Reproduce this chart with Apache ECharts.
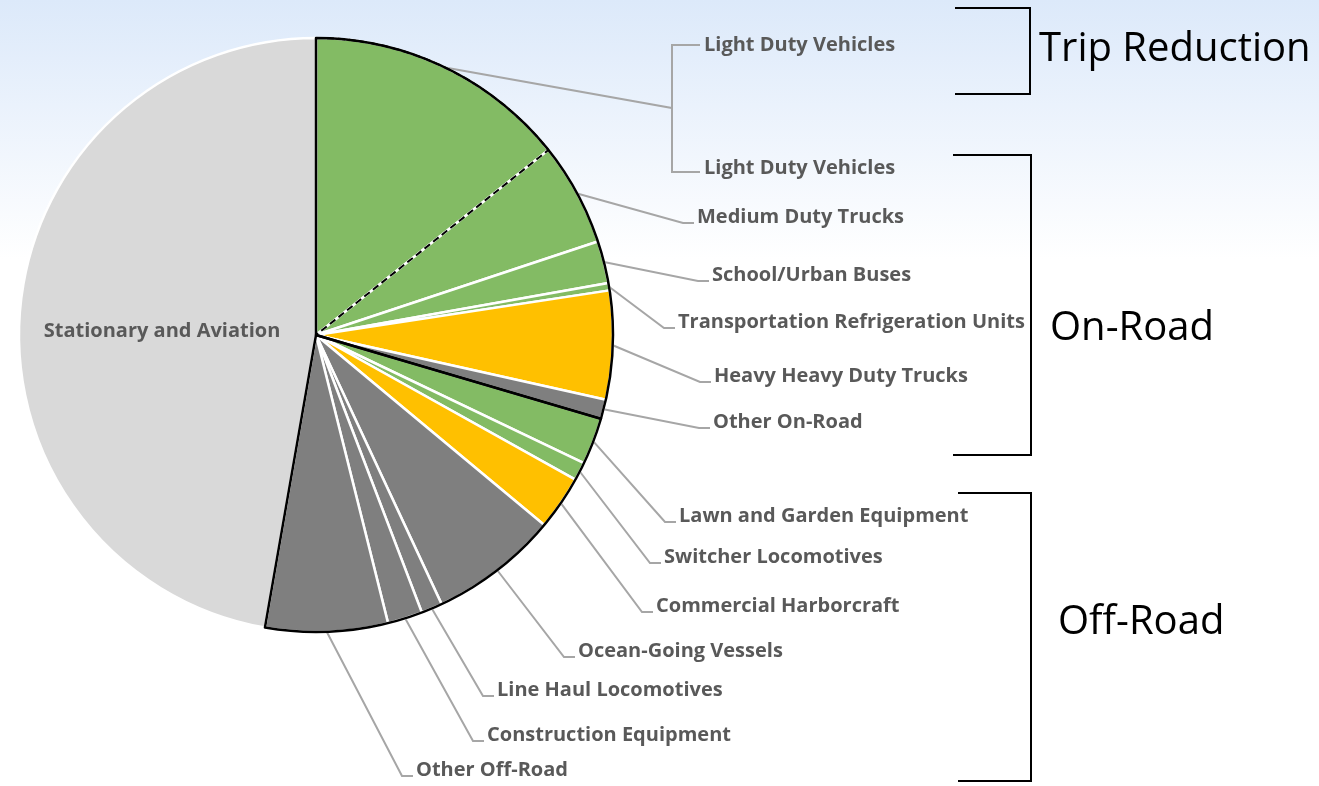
<!DOCTYPE html>
<html><head><meta charset="utf-8">
<script src="https://cdn.jsdelivr.net/npm/echarts@6/dist/echarts.min.js"></script>
<style>html,body{margin:0;padding:0;background:#fff}#chart{width:1319px;height:786px}</style>
</head><body><div id="chart"></div>
<script>
// ---- data ----
const categories = [
  'Light Duty Vehicles', 'Medium Duty Trucks', 'School/Urban Buses',
  'Transportation Refrigeration Units', 'Heavy Heavy Duty Trucks', 'Other On-Road',
  'Lawn and Garden Equipment', 'Switcher Locomotives', 'Commercial Harborcraft',
  'Ocean-Going Vessels', 'Line Haul Locomotives', 'Construction Equipment',
  'Other Off-Road', 'Stationary and Aviation'
];
const shares = [14.3, 5.6, 2.3, 0.4, 5.9, 1.05, 2.55, 1.0, 2.95, 7.0, 1.15, 1.9, 6.65, 47.25];
const categoryGroup = ['Trip Reduction', 'On-Road', 'On-Road', 'On-Road', 'On-Road', 'On-Road',
  'Off-Road', 'Off-Road', 'Off-Road', 'Off-Road', 'Off-Road', 'Off-Road', 'Off-Road', 'Stationary'];
const groupTitles = ['Trip Reduction', 'On-Road', 'Off-Road'];

// ---- styles ----
const GREEN = '#83BB64', YELLOW = '#FFC000', DGRAY = '#7F7F7F', LGRAY = '#D9D9D9';
const sliceColors = [GREEN, GREEN, GREEN, GREEN, YELLOW, DGRAY, GREEN, GREEN, YELLOW,
  DGRAY, DGRAY, DGRAY, DGRAY, LGRAY];
const FONT = '"Open Sans", "Noto Sans", sans-serif';
const CENTER = [316, 335], RADIUS = 297;

// label anchor positions (left x, middle y)
const labelAt = {
  'Light Duty Vehicles': [704, 107],
  'Medium Duty Trucks': [697, 217],
  'School/Urban Buses': [712, 275],
  'Transportation Refrigeration Units': [678, 322],
  'Heavy Heavy Duty Trucks': [714, 376],
  'Other On-Road': [713, 422],
  'Lawn and Garden Equipment': [679, 516],
  'Switcher Locomotives': [664, 557],
  'Commercial Harborcraft': [656, 606],
  'Ocean-Going Vessels': [578, 651],
  'Line Haul Locomotives': [497, 690],
  'Construction Equipment': [487, 735],
  'Other Off-Road': [416, 770]
};

const sumWhere = f => shares.reduce((s, v, i) => s + (f(categoryGroup[i]) ? v : 0), 0);

const baseData = categories.map((name, i) => {
  const item = { name: name, value: shares[i], itemStyle: { color: sliceColors[i] } };
  if (name === 'Light Duty Vehicles') {
    item.label = { formatter: 'Light Duty Vehicles\nLight Duty Vehicles', lineHeight: 123 };
  }
  if (categoryGroup[i] === 'Stationary') {
    item.label = { position: 'inside' };
    item.labelLine = { show: false };
  }
  return item;
});

const solidData = [
  { value: sumWhere(g => g === 'Trip Reduction' || g === 'On-Road'),
    itemStyle: { color: 'rgba(0,0,0,0)', borderColor: '#000', borderWidth: 2.5 } },
  { value: sumWhere(g => g === 'Off-Road'),
    itemStyle: { color: 'rgba(0,0,0,0)', borderColor: '#000', borderWidth: 2.5 } },
  { value: sumWhere(g => g === 'Stationary'),
    itemStyle: { color: 'rgba(0,0,0,0)', borderWidth: 0 } }
];
const dashedData = [
  { value: sumWhere(g => g === 'Trip Reduction'),
    itemStyle: { color: 'rgba(0,0,0,0)', borderColor: '#000', borderWidth: 2, borderType: [7, 4] } },
  { value: sumWhere(g => g !== 'Trip Reduction'),
    itemStyle: { color: 'rgba(0,0,0,0)', borderWidth: 0 } }
];

const chart = echarts.init(document.getElementById('chart'), null, { renderer: 'canvas' });

const bracket = (x0, x1, y0, y1) => ({
  type: 'polyline', silent: true,
  shape: { points: [[x0, y0], [x1, y0], [x1, y1], [x0, y1]] },
  style: { stroke: '#000', lineWidth: 2, fill: null }
});
const groupText = (txt, x, y) => ({
  type: 'text', silent: true, x: x, y: y,
  style: { text: txt, fill: '#000', font: '40px ' + FONT, textAlign: 'left', textVerticalAlign: 'middle' }
});

chart.setOption({
  animation: false,
  backgroundColor: {
    type: 'linear', x: 0, y: 0, x2: 0, y2: 1,
    colorStops: [{ offset: 0, color: '#DCE9FA' }, { offset: 0.33, color: '#FFFFFF' }, { offset: 1, color: '#FFFFFF' }]
  },
  graphic: [
    bracket(955, 1030, 8, 94),
    bracket(953, 1031, 155, 455),
    bracket(958, 1031, 493, 781),
    groupText(groupTitles[0], 1039, 50),
    groupText(groupTitles[1], 1050, 329),
    groupText(groupTitles[2], 1058, 623)
  ],
  series: [
    {
      type: 'pie', center: CENTER, radius: RADIUS, startAngle: 90, clockwise: true,
      silent: true, emphasis: { disabled: true }, avoidLabelOverlap: false,
      itemStyle: { borderColor: '#FFFFFF', borderWidth: 2.5 },
      label: { show: true, position: 'outside', color: '#595959', fontFamily: FONT, fontWeight: 'bold', fontSize: 20 },
      labelLine: { show: true, length: 20, length2: 10, smooth: false, lineStyle: { color: '#A6A6A6', width: 2 } },
      labelLayout: function (p) {
        const name = categories[p.dataIndex];
        const pos = labelAt[name];
        if (!pos || !p.labelLinePoints) {
          return categoryGroup[p.dataIndex] === 'Stationary' ? { dy: 9, dx: -3 } : {};
        }
        const start = p.labelLinePoints[0];
        const lx = pos[0], ly = pos[1];
        let pts;
        if (name === 'Light Duty Vehicles') {
          const jx = lx - 32;
          pts = [start, [jx, ly + 1], [jx, ly - 62], [lx - 4, ly - 62], [jx, ly - 62],
            [jx, ly + 65], [lx - 4, ly + 65]];
        } else {
          pts = [start, [lx - 14, ly + 6], [lx - 3, ly + 6]];
        }
        return { x: lx, y: ly, align: 'left', verticalAlign: 'middle', labelLinePoints: pts };
      },
      data: baseData
    },
    {
      type: 'pie', center: CENTER, radius: RADIUS, startAngle: 90, clockwise: true,
      silent: true, emphasis: { disabled: true }, label: { show: false }, labelLine: { show: false },
      data: solidData
    },
    {
      type: 'pie', center: CENTER, radius: RADIUS, startAngle: 90, clockwise: true,
      silent: true, emphasis: { disabled: true }, label: { show: false }, labelLine: { show: false },
      data: dashedData
    }
  ]
});
</script>
</body></html>
